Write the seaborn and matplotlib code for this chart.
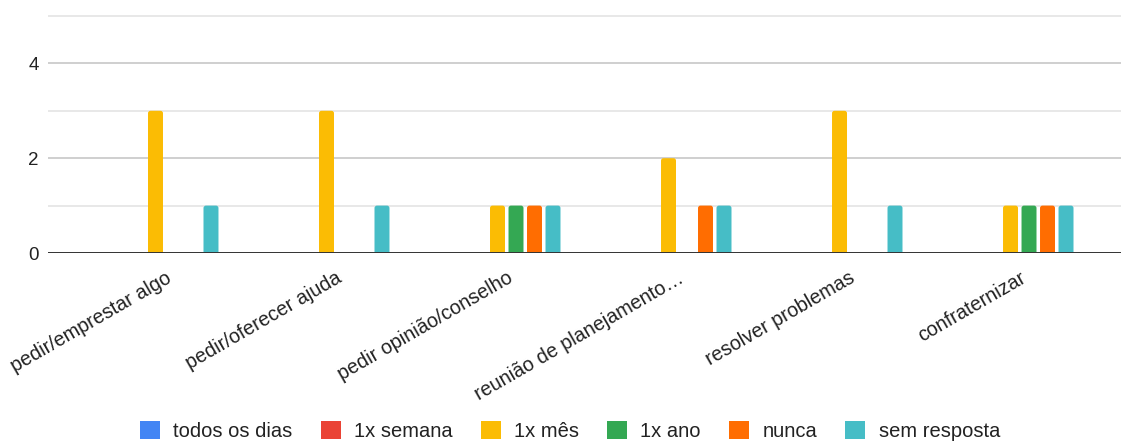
import matplotlib
matplotlib.use("Agg")
import matplotlib.pyplot as plt
from matplotlib.patches import FancyBboxPatch, Patch
import pandas as pd
import seaborn as sns

# Survey answers: how often each activity happens
categories = [
    "pedir/emprestar algo",
    "pedir/oferecer ajuda",
    "pedir opinião/conselho",
    "reunião de planejamento…",
    "resolver problemas",
    "confraternizar",
]
series_names = ["todos os dias", "1x semana", "1x mês", "1x ano", "nunca", "sem resposta"]
todos_os_dias = [0, 0, 0, 0, 0, 0]
uma_vez_semana = [0, 0, 0, 0, 0, 0]
uma_vez_mes = [3, 3, 1, 2, 3, 1]
uma_vez_ano = [0, 0, 1, 0, 0, 1]
nunca = [0, 0, 1, 1, 0, 1]
sem_resposta = [1, 1, 1, 1, 1, 1]
y_ticks = [0, 2, 4]

colors = ["#4285F4", "#EA4335", "#FBBC04", "#34A853", "#FF6D01", "#46BDC6"]

series_values = [todos_os_dias, uma_vez_semana, uma_vez_mes, uma_vez_ano, nunca, sem_resposta]
rows = []
for name, values in zip(series_names, series_values):
    for cat, v in zip(categories, values):
        rows.append({"atividade": cat, "frequência": name, "respostas": v})
df = pd.DataFrame(rows)

sns.set_theme(style="white")
plt.rcParams["font.family"] = ["Liberation Sans", "DejaVu Sans"]

W, H = 1121, 441
fig = plt.figure(figsize=(W / 100, H / 100), dpi=100)
ax_left, ax_right, ax_top, ax_bottom = 48, 1121, 14, 253
ax = fig.add_axes([ax_left / W, 1 - ax_bottom / H,
                   (ax_right - ax_left) / W, (ax_bottom - ax_top) / H])

sns.barplot(
    data=df, x="atividade", y="respostas", hue="frequência",
    order=categories, hue_order=series_names, palette=colors,
    width=0.649, gap=0.19, saturation=1, errorbar=None, legend=False, ax=ax,
)

# pixel scale of the axes, used for rounded bar tops
xlim = (-0.6827, 5.592)
ylim = (0, 5.042)
ax.set_xlim(*xlim)
ax.set_ylim(*ylim)
px_x = (xlim[1] - xlim[0]) / (ax_right - ax_left)
px_y = (ylim[1] - ylim[0]) / (ax_bottom - ax_top)
radius_px = 2.5

for bar in list(ax.patches):
    x, y, w, h = bar.get_x(), bar.get_y(), bar.get_width(), bar.get_height()
    fc = bar.get_facecolor()
    bar.remove()
    if h <= 0:
        continue
    ext = radius_px * px_y
    rounded = FancyBboxPatch(
        (x, y - ext), w, h + ext,
        boxstyle=f"round,pad=0,rounding_size={radius_px * px_x}",
        mutation_aspect=px_y / px_x,
        facecolor=fc, edgecolor="none", zorder=2,
    )
    ax.add_patch(rounded)

# gridlines: labelled every 2, lighter in between
ax.set_yticks(y_ticks)
ax.set_yticks([1, 3, 5], minor=True)
ax.grid(axis="y", which="major", color="#cccccc", linewidth=1.3, zorder=0)
ax.grid(axis="y", which="minor", color="#e6e6e6", linewidth=1.3, zorder=0)
ax.grid(axis="x", visible=False)
ax.set_axisbelow(True)
ax.axhline(0, color="#333333", linewidth=1.4, zorder=3)

for s in ax.spines.values():
    s.set_visible(False)
ax.tick_params(axis="both", which="both", length=0)
ax.tick_params(axis="y", labelsize=13.5, labelcolor="#222222", pad=6.5)
ax.set_xlabel("")
ax.set_ylabel("")
ax.set_xticks(range(len(categories)))
ax.set_xticklabels(categories, rotation=30, ha="right", va="top",
                   rotation_mode="anchor", fontsize=14.2, color="#222222")
ax.tick_params(axis="x", pad=11)

handles = [Patch(facecolor=c, edgecolor="none", label=n) for c, n in zip(colors, series_names)]
fig.legend(
    handles=handles, loc="center", bbox_to_anchor=(570 / W, 1 - 431 / H),
    ncol=6, frameon=False, fontsize=14.5, labelcolor="#222222",
    handlelength=1.0, handleheight=1.0, handletextpad=0.65, columnspacing=1.4,
)

fig.savefig("out.png", dpi=100)
